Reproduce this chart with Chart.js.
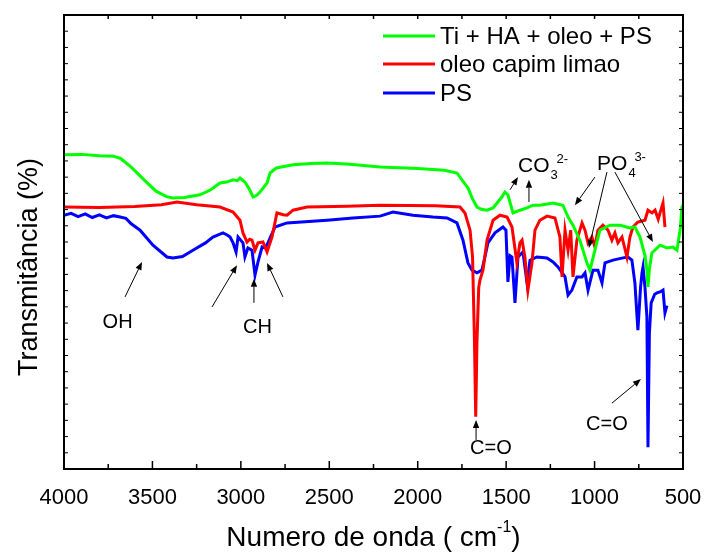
<!DOCTYPE html>
<html>
<head>
<meta charset="utf-8">
<script src="https://cdn.jsdelivr.net/npm/chart.js@4.4.0/dist/chart.umd.min.js"></script>
<style>
  html, body { margin: 0; padding: 0; background: #fff; }
</style>
</head>
<body>
<canvas id="ftirChart" width="707" height="555"></canvas>
<script>
// Ti + HA + oleo + PS
const compositeWn = [4000, 3900, 3800, 3720, 3680, 3620, 3550, 3480, 3420, 3384, 3320, 3231, 3170, 3118, 3080, 3044, 3020, 3005, 2990, 2977, 2950, 2931, 2910, 2892, 2852, 2835, 2800, 2705, 2600, 2513, 2400, 2213, 2000, 1850, 1778, 1750, 1716, 1690, 1665, 1640, 1608, 1574, 1524, 1507, 1490, 1461, 1422, 1382, 1348, 1309, 1235, 1179, 1150, 1122, 1083, 1043, 1026, 998, 970, 913, 856, 800, 772, 743, 715, 704, 698, 690, 676, 630, 591, 557, 534, 515, 506, 500];
const compositeT = [69.2, 69.3, 69.0, 68.9, 68.4, 66.5, 63.8, 61.2, 60.0, 59.7, 59.8, 60.4, 61.5, 63.0, 63.2, 63.7, 63.5, 64.1, 63.6, 63.2, 61.5, 59.9, 60.3, 61.0, 63.0, 65.2, 66.3, 67.0, 67.3, 67.4, 67.2, 66.5, 66.2, 65.8, 65.2, 63.7, 61.9, 59.5, 57.7, 57.2, 57.0, 57.5, 59.9, 61.0, 60.4, 56.4, 57.0, 57.5, 58.1, 58.1, 58.6, 58.1, 55.5, 53.7, 50.4, 45.4, 43.8, 48.2, 52.6, 53.7, 53.7, 53.1, 53.3, 51.1, 47.0, 43.8, 40.1, 44.0, 47.6, 49.3, 48.7, 48.9, 48.2, 53.0, 57.7, 58.1];

// oleo capim limao
const oilWn = [4000, 3800, 3600, 3450, 3361, 3250, 3118, 3044, 3005, 2988, 2965, 2950, 2937, 2920, 2903, 2875, 2852, 2824, 2796, 2760, 2739, 2705, 2626, 2400, 2213, 1900, 1761, 1733, 1704, 1690, 1680, 1672, 1665, 1655, 1648, 1631, 1608, 1574, 1535, 1495, 1467, 1439, 1422, 1410, 1394, 1377, 1354, 1337, 1309, 1269, 1224, 1196, 1184, 1167, 1150, 1135, 1122, 1100, 1071, 1054, 1037, 1015, 998, 981, 953, 924, 902, 885, 868, 845, 817, 800, 783, 755, 715, 698, 675, 658, 640, 630, 613, 602];
const oilT = [57.7, 57.6, 57.8, 58.2, 58.8, 58.2, 57.7, 56.6, 54.8, 52.0, 50.0, 50.6, 50.4, 48.2, 49.8, 50.0, 47.8, 51.1, 56.4, 56.0, 55.9, 57.0, 57.7, 57.9, 58.1, 58.0, 57.7, 56.4, 52.6, 46.7, 30.0, 11.5, 28.0, 40.0, 41.6, 43.8, 50.4, 54.8, 55.9, 55.5, 53.3, 45.4, 49.8, 50.4, 46.7, 39.4, 45.4, 52.6, 54.8, 55.7, 55.3, 51.1, 42.3, 52.6, 48.2, 52.6, 42.3, 50.4, 54.2, 52.6, 49.8, 51.1, 48.9, 52.6, 53.7, 52.6, 50.4, 52.0, 49.8, 51.1, 46.7, 51.1, 53.3, 54.4, 54.8, 57.0, 56.4, 57.0, 55.0, 56.4, 58.6, 53.3];

// PS
const psWn = [4000, 3960, 3920, 3880, 3840, 3800, 3760, 3720, 3683, 3650, 3620, 3570, 3497, 3418, 3384, 3330, 3271, 3200, 3158, 3101, 3075, 3061, 3044, 3027, 3016, 2988, 2977, 2960, 2937, 2920, 2903, 2880, 2863, 2847, 2807, 2739, 2513, 2366, 2213, 2140, 2027, 1914, 1834, 1778, 1744, 1716, 1693, 1665, 1637, 1620, 1603, 1563, 1518, 1501, 1490, 1478, 1467, 1450, 1433, 1405, 1382, 1365, 1326, 1269, 1235, 1207, 1167, 1150, 1128, 1100, 1071, 1054, 1037, 1009, 981, 958, 941, 896, 839, 811, 789, 772, 755, 740, 732, 726, 715, 704, 698, 690, 680, 660, 647, 630, 613, 602, 591];
const psT = [55.9, 56.3, 55.6, 56.2, 55.4, 56.0, 55.3, 55.8, 55.5, 55.2, 54.0, 52.6, 49.3, 46.7, 46.5, 46.8, 48.2, 49.8, 51.1, 52.0, 51.5, 51.1, 49.8, 47.8, 51.1, 49.8, 46.7, 48.7, 48.2, 42.7, 45.6, 48.9, 48.7, 49.8, 53.3, 54.2, 54.8, 55.3, 55.7, 56.6, 55.9, 55.5, 55.3, 54.2, 50.4, 45.4, 43.8, 43.2, 43.8, 46.7, 49.8, 52.0, 53.3, 52.6, 41.2, 47.0, 46.7, 36.6, 46.7, 47.8, 41.0, 46.0, 46.7, 46.5, 45.6, 44.5, 42.3, 38.3, 39.4, 42.3, 42.3, 43.2, 39.4, 43.8, 43.8, 41.0, 45.4, 46.0, 46.5, 46.7, 46.0, 41.0, 30.6, 40.0, 43.2, 44.5, 40.0, 33.5, 4.8, 30.0, 36.6, 38.5, 38.8, 39.0, 39.4, 34.4, 36.0];

const xTickValues = [4000, 3500, 3000, 2500, 2000, 1500, 1000, 500];

// band labels, placed in data coordinates (wavenumber, transmittance)
const bandLabels = [
    { text: 'OH', wn: 3697, t: 32.3 },
    { text: 'CH', wn: 2906, t: 31.2 },
    { text: 'C=O', wn: 1586, t: 4.6 },
    { text: 'C=O', wn: 930, t: 9.9 }
];
// ion labels: left edge / baseline of the main text
const ionLabels = [
    { base: 'CO', sub: '3', sup: '2-', wn: 1433, t: 65.4 },
    { base: 'PO', sub: '4', sup: '3-', wn: 986, t: 65.9 }
];
const arrows = [
    { from: [3655, 37.9], to: [3559, 45.6] },
    { from: [3163, 35.7], to: [3022, 44.9] },
    { from: [2926, 36.6], to: [2926, 41.9] },
    { from: [2762, 37.9], to: [2852, 45.4] },
    { from: [1478, 61.5], to: [1433, 64.3] },
    { from: [1371, 58.8], to: [1371, 63.7] },
    { from: [998, 64.3], to: [1111, 58.1] },
    { from: [930, 65.4], to: [1032, 48.7] },
    { from: [885, 65.4], to: [670, 50.0] },
    { from: [1670, 6.4], to: [1670, 10.8] },
    { from: [902, 14.5], to: [738, 19.8] }
];

function toPoints(xs, ys) {
    return xs.map((x, i) => ({ x: x, y: ys[i] }));
}

const FONT = '"Liberation Sans", Arial, sans-serif';

function drawArrow(ctx, x1, y1, x2, y2) {
    const ang = Math.atan2(y2 - y1, x2 - x1);
    const head = 8, half = 3.2;
    const c = Math.cos(ang), s = Math.sin(ang);
    ctx.beginPath();
    ctx.moveTo(x1, y1);
    ctx.lineTo(x2 - head * c, y2 - head * s);
    ctx.stroke();
    ctx.beginPath();
    ctx.moveTo(x2, y2);
    ctx.lineTo(x2 - head * c + half * s, y2 - head * s - half * c);
    ctx.lineTo(x2 - head * c - half * s, y2 - head * s + half * c);
    ctx.closePath();
    ctx.fill();
}

const decorations = {
    id: 'decorations',
    afterDraw(chart) {
        const ctx = chart.ctx;
        const a = chart.chartArea;
        const x = chart.scales.x, y = chart.scales.y;
        ctx.save();
        ctx.strokeStyle = '#000';
        ctx.fillStyle = '#000';

        // frame
        ctx.lineWidth = 2;
        ctx.strokeRect(a.left, a.top, a.right - a.left, a.bottom - a.top);

        // inward ticks
        ctx.lineWidth = 1.5;
        for (let wn = 500; wn <= 4000; wn += 250) {
            const px = x.getPixelForValue(wn);
            const len = wn % 500 === 0 ? 8 : 5;
            ctx.beginPath();
            ctx.moveTo(px, a.bottom); ctx.lineTo(px, a.bottom - len);
            ctx.moveTo(px, a.top); ctx.lineTo(px, a.top + 4);
            ctx.stroke();
        }
        ctx.lineWidth = 1;
        for (let i = 1; i < 28; i++) {
            const py = y.getPixelForValue(i * 100 / 28);
            ctx.beginPath();
            ctx.moveTo(a.left, py); ctx.lineTo(a.left + 4, py);
            ctx.moveTo(a.right, py); ctx.lineTo(a.right - 4, py);
            ctx.stroke();
        }

        // legend
        const rows = [36, 64, 93];
        ctx.font = '24px ' + FONT;
        ctx.textBaseline = 'middle';
        ctx.textAlign = 'left';
        chart.data.datasets.forEach((ds, i) => {
            ctx.strokeStyle = ds.borderColor;
            ctx.lineWidth = 3;
            ctx.beginPath();
            ctx.moveTo(383, rows[i]); ctx.lineTo(435, rows[i]);
            ctx.stroke();
            ctx.fillStyle = '#000';
            ctx.fillText(ds.label, 440, rows[i] + 1);
        });

        // band labels
        ctx.strokeStyle = '#000';
        ctx.fillStyle = '#000';
        ctx.font = '20px ' + FONT;
        ctx.textAlign = 'center';
        ctx.textBaseline = 'middle';
        bandLabels.forEach(l => {
            ctx.fillText(l.text, x.getPixelForValue(l.wn), y.getPixelForValue(l.t));
        });

        // ion labels with sub / superscript
        ctx.textAlign = 'left';
        ctx.textBaseline = 'alphabetic';
        ionLabels.forEach(l => {
            const px = x.getPixelForValue(l.wn), py = y.getPixelForValue(l.t);
            ctx.font = '21px ' + FONT;
            ctx.fillText(l.base, px, py);
            const w = ctx.measureText(l.base).width;
            ctx.font = '13px ' + FONT;
            ctx.fillText(l.sub, px + w + 1, py + 7);
            ctx.fillText(l.sup, px + w + 7, py - 9);
        });

        // arrows
        ctx.lineWidth = 1;
        arrows.forEach(ar => {
            drawArrow(ctx,
                x.getPixelForValue(ar.from[0]), y.getPixelForValue(ar.from[1]),
                x.getPixelForValue(ar.to[0]), y.getPixelForValue(ar.to[1]));
        });

        // x title with superscript
        const cx = (a.left + a.right) / 2;
        const main = 'Numero de onda ( cm', sup = '-1', close = ')';
        ctx.font = '28px ' + FONT;
        const wMain = ctx.measureText(main).width;
        const wClose = ctx.measureText(close).width;
        ctx.font = '16px ' + FONT;
        const wSup = ctx.measureText(sup).width;
        let sx = cx - (wMain + wSup + wClose) / 2;
        ctx.font = '28px ' + FONT;
        ctx.fillText(main, sx, 546);
        ctx.font = '16px ' + FONT;
        ctx.fillText(sup, sx + wMain, 532);
        ctx.font = '28px ' + FONT;
        ctx.fillText(close, sx + wMain + wSup, 546);

        // y title
        ctx.translate(37, 267);
        ctx.rotate(-Math.PI / 2);
        ctx.textAlign = 'center';
        ctx.font = '27px ' + FONT;
        ctx.fillText('Transmitância (%)', 0, 0);

        ctx.restore();
    }
};

const ctx = document.getElementById('ftirChart').getContext('2d');
const myChart = new Chart(ctx, {
    type: 'line',
    data: {
        datasets: [
            {
                label: 'Ti + HA + oleo + PS',
                data: toPoints(compositeWn, compositeT),
                borderColor: '#00ff00',
                backgroundColor: '#00ff00'
            },
            {
                label: 'oleo capim limao',
                data: toPoints(oilWn, oilT),
                borderColor: '#ff0000',
                backgroundColor: '#ff0000'
            },
            {
                label: 'PS',
                data: toPoints(psWn, psT),
                borderColor: '#0000ff',
                backgroundColor: '#0000ff'
            }
        ]
    },
    options: {
        responsive: false,
        animation: false,
        devicePixelRatio: 1,
        elements: {
            line: { borderWidth: 3, tension: 0, fill: false },
            point: { radius: 0 }
        },
        layout: {
            padding: { top: 15, right: 24, left: 0, bottom: 0 }
        },
        plugins: {
            legend: { display: false },
            tooltip: { enabled: false }
        },
        scales: {
            x: {
                type: 'linear',
                reverse: true,
                min: 500,
                max: 4000,
                afterFit: scale => {
                    scale.height = 86;
                    scale.paddingLeft = 0;
                    scale.paddingRight = 0;
                },
                afterBuildTicks: scale => {
                    scale.ticks = xTickValues.map(v => ({ value: v }));
                },
                grid: { display: false },
                border: { display: false },
                ticks: {
                    color: '#000',
                    padding: 8,
                    maxRotation: 0,
                    autoSkip: false,
                    font: { family: FONT, size: 22 },
                    callback: v => String(v)
                }
            },
            y: {
                min: 0,
                max: 100,
                afterFit: scale => { scale.width = 64; },
                grid: { display: false },
                border: { display: false },
                ticks: { display: false }
            }
        }
    },
    plugins: [decorations]
});
</script>
</body>
</html>
